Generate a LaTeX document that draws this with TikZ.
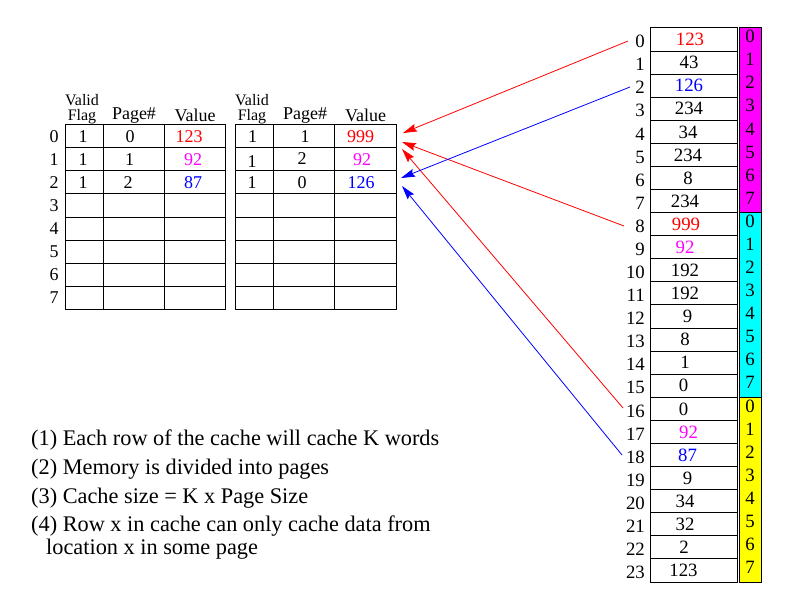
\documentclass[tikz,border=0pt]{standalone}
\usepackage{fontspec}
\setmainfont{Liberation Serif}
\usetikzlibrary{arrows.meta}
\definecolor{mred}{RGB}{255,0,0}
\definecolor{mmag}{RGB}{255,0,255}
\definecolor{mblue}{RGB}{0,0,255}
\definecolor{mcyan}{RGB}{0,255,255}
\definecolor{myel}{RGB}{255,255,0}
\tikzset{
  grid line/.style={draw=black, line width=1bp},
  txt/.style={inner sep=0pt, font=\fontsize{18bp}{20bp}\selectfont},
  memtxt/.style={inner sep=0pt, font=\fontsize{18.8bp}{20bp}\selectfont},
  hdrsmall/.style={inner sep=0pt, anchor=base, font=\fontsize{16bp}{18bp}\selectfont},
  hdr/.style={inner sep=0pt, anchor=base, font=\fontsize{18bp}{20bp}\selectfont},
  note/.style={inner sep=0pt, anchor=base west, font=\fontsize{22.3bp}{24bp}\selectfont},
  redarr/.style={draw=mred, line width=0.8bp, -{Stealth[length=14bp,width=8bp,inset=2bp]}},
  bluearr/.style={draw=mblue, line width=0.8bp, -{Stealth[length=14bp,width=8bp,inset=2bp]}},
}
\begin{document}
\begin{tikzpicture}[x=1bp,y=-1bp]
\useasboundingbox (0,0) rectangle (792,612);
\fill[white] (0,0) rectangle (792,612);

% ---------- cache table 1 ----------
\draw[grid line] (65,125) rectangle (225,309);
\foreach \xx in {103,164} \draw[grid line] (\xx,125) -- (\xx,309);
\foreach \k in {1,...,7} \draw[grid line] (65,{125+23*\k}) -- (225,{125+23*\k});
% ---------- cache table 2 ----------
\draw[grid line] (235,125) rectangle (396,309);
\foreach \xx in {273,334} \draw[grid line] (\xx,125) -- (\xx,309);
\foreach \k in {1,...,7} \draw[grid line] (235,{125+23*\k}) -- (396,{125+23*\k});

% headers
\node[hdrsmall] (h1v) at (82,105.5) {Valid};
\node[hdrsmall] (h1f) at (82,121) {Flag};
\node[hdr] (h1p) at (134,119.5) {Page\#};
\node[hdr] (h1val) at (195,121.5) {Value};
\node[hdrsmall] (h2v) at (252,105.5) {Valid};
\node[hdrsmall] (h2f) at (252,121) {Flag};
\node[hdr] (h2p) at (305,119.5) {Page\#};
\node[hdr] (h2val) at (365.5,121.5) {Value};

% row labels
\foreach \i in {0,...,7} \node[txt] (r\i) at (54,{136.5+23*\i}) {\i};

% table 1 contents
\node[txt] (t1a0) at (83,136.5) {1};
\node[txt] (t1b0) at (130,136.5) {0};
\node[txt, text=mred] (t1c0) at (189,136.5) {123};
\node[txt] (t1a1) at (83,160) {1};
\node[txt] (t1b1) at (129.5,160) {1};
\node[txt, text=mmag] (t1c1) at (193,160) {92};
\node[txt] (t1a2) at (83,183) {1};
\node[txt] (t1b2) at (128,183) {2};
\node[txt, text=mblue] (t1c2) at (193,183) {87};

% table 2 contents
\node[txt] (t2a0) at (252.5,136.5) {1};
\node[txt] (t2b0) at (305,136.5) {1};
\node[txt, text=mred] (t2c0) at (360.5,136.5) {999};
\node[txt] (t2a1) at (252,161.3) {1};
\node[txt] (t2b1) at (302,158.3) {2};
\node[txt, text=mmag] (t2c1) at (362,160) {92};
\node[txt] (t2a2) at (252,183) {1};
\node[txt] (t2b2) at (302,183) {0};
\node[txt, text=mblue] (t2c2) at (361,183) {126};

% ---------- memory ----------
\fill[mmag] (739,28) rectangle (761,212.7);
\fill[mcyan] (739,212.7) rectangle (761,397.3);
\fill[myel] (739,397.3) rectangle (761,582);
\draw[grid line] (739,28) rectangle (761,582);
\draw[grid line] (739,212.7) -- (761,212.7);
\draw[grid line] (739,397.3) -- (761,397.3);

\draw[grid line] (650,28) rectangle (737,582);
\foreach \k in {1,...,23} \draw[grid line] (650,{28+23.083*\k}) -- (737,{28+23.083*\k});

\foreach \v/\xx/\c [count=\i from 0] in {
  123/690/mred, 43/689/black, 126/689/mblue, 234/689/black,
  34/688/black, 234/688/black, 8/688/black, 234/685/black,
  999/686/mred, 92/685/mmag, 192/685/black, 192/685/black,
  9/687.5/black, 8/685/black, 1/685/black, 0/683.5/black,
  0/683.5/black, 92/688.5/mmag, 87/687.5/mblue, 9/687.5/black,
  34/685/black, 32/685/black, 2/684/black, 123/683.5/black} {
  \node[memtxt, text=\c] (m\i) at (\xx,{28+23.083*(\i+0.5)}) {\v};
  \node[memtxt, anchor=east] (a\i) at (645,{28+23.083*(\i+0.5)+2}) {\i};
  \pgfmathtruncatemacro\pg{mod(\i,8)}
  \node[memtxt] (p\i) at (750,{28+23.083*(\i+0.5)-3}) {\pg};
}

% ---------- arrows ----------
\coordinate (sA) at (628,41);
\coordinate (tA) at (403,133);
\coordinate (sB) at (624,226);
\coordinate (tB) at (402,142);
\coordinate (sC) at (623,408);
\coordinate (tC) at (402,149);
\coordinate (sD) at (630,87);
\coordinate (tD) at (401,178);
\coordinate (sE) at (622,455);
\coordinate (tE) at (402,186);
\draw[redarr] (sA) -- (tA);
\draw[redarr] (sB) -- (tB);
\draw[redarr] (sC) -- (tC);
\draw[bluearr] (sD) -- (tD);
\draw[bluearr] (sE) -- (tE);

% ---------- notes ----------
\node[note] (n1) at (31,445) {(1) Each row of the cache will cache K words};
\node[note] (n2) at (31,474) {(2) Memory is divided into pages};
\node[note] (n3) at (31,503) {(3) Cache size = K x Page Size};
\node[note] (n4) at (31,531) {(4) Row x in cache can only cache data from};
\node[note] (n5) at (46,554) {location x in some page};
\end{tikzpicture}
\end{document}
